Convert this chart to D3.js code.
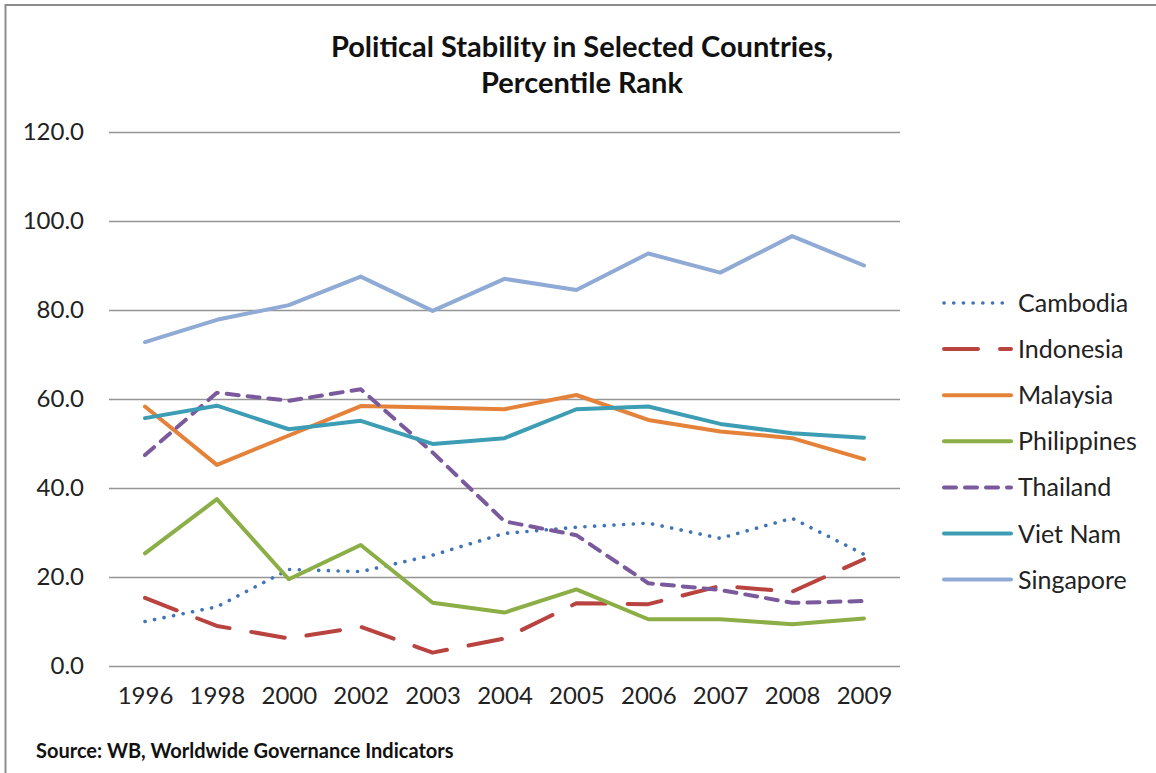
<!DOCTYPE html>
<html>
<head>
<meta charset="utf-8">
<script src="https://cdnjs.cloudflare.com/ajax/libs/d3/7.8.5/d3.min.js"></script>
<style>
  body { margin: 0; background: #fff; }
  svg { display: block; }
</style>
</head>
<body>
<div id="chart"></div>
<script>
const years = ['1996', '1998', '2000', '2002', '2003', '2004', '2005', '2006', '2007', '2008', '2009']
const countries = ['Cambodia', 'Indonesia', 'Malaysia', 'Philippines', 'Thailand', 'Viet Nam', 'Singapore']

const cambodia    = [10.0, 13.3, 21.7, 21.2, 24.9, 29.8, 31.2, 32.1, 28.7, 33.2, 25.1]
const indonesia   = [15.3, 9.0, 6.2, 8.8, 3.0, 6.2, 14.1, 13.9, 18.0, 16.7, 24.0]
const malaysia    = [58.3, 45.2, 51.8, 58.4, 58.1, 57.7, 60.9, 55.3, 52.7, 51.2, 46.5]
const philippines = [25.3, 37.5, 19.5, 27.2, 14.2, 12.0, 17.2, 10.5, 10.5, 9.4, 10.7]
const thailand    = [47.4, 61.4, 59.6, 62.2, 48.0, 32.5, 29.4, 18.6, 17.1, 14.2, 14.6]
const vietnam     = [55.7, 58.5, 53.2, 55.1, 49.9, 51.2, 57.7, 58.3, 54.4, 52.3, 51.3]
const singapore   = [72.8, 77.8, 81.1, 87.5, 79.8, 87.0, 84.5, 92.7, 88.4, 96.6, 90.0]

const yTicks = [0, 20, 40, 60, 80, 100, 120]

const STYLES = {
	'Cambodia':    { color: '#3f74b6', dash: '0.1 9.6', cap: 'round', width: 3.6 },
	'Indonesia':   { color: '#b8433f', dash: '34 22', cap: 'round', width: 4 },
	'Malaysia':    { color: '#e5823a', dash: null, cap: 'round', width: 4 },
	'Philippines': { color: '#8bae46', dash: null, cap: 'round', width: 4 },
	'Thailand':    { color: '#7a5a9c', dash: '12 9', cap: 'round', width: 4 },
	'Viet Nam':    { color: '#3c9db4', dash: null, cap: 'round', width: 4 },
	'Singapore':   { color: '#8faad5', dash: null, cap: 'round', width: 4 },
}

const seriesValues = [cambodia, indonesia, malaysia, philippines, thailand, vietnam, singapore]

const width = 1156
const height = 773
const FONT = 'Lato, "Open Sans", sans-serif'

let svg = d3.select('#chart').append('svg')
	.attr('width', width)
	.attr('height', height)

// frame (only top and left edges show in the picture)
svg.append('rect')
	.attr('x', 5.5)
	.attr('y', 5)
	.attr('width', width + 20)
	.attr('height', height + 20)
	.attr('fill', 'none')
	.attr('stroke', '#8c8c8c')
	.attr('stroke-width', 2)

// title
let title = svg.append('text')
	.attr('x', 582)
	.attr('text-anchor', 'middle')
	.style('font-family', FONT)
	.style('font-size', '29px')
	.style('font-weight', '700')
	.attr('fill', '#111')
title.append('tspan').attr('x', 582).attr('y', 57).text('Political Stability in Selected Countries,')
title.append('tspan').attr('x', 582).attr('y', 93).text('Percentile Rank')

let x = d3.scalePoint()
	.domain(years)
	.range([145, 864])

let y = d3.scaleLinear()
	.domain([0, 120])
	.range([666, 132])

// gridlines + y labels
let yAxis = svg.append('g')
	.attr('transform', 'translate(109,0)')
	.call(d3.axisLeft(y).tickValues(yTicks).tickSize(-791).tickPadding(25).tickFormat(d3.format('.1f')))
yAxis.select('.domain').remove()
yAxis.selectAll('line')
	.attr('stroke', '#959595')
	.attr('stroke-width', 1.3)
yAxis.selectAll('text')
	.style('font-family', FONT)
	.style('font-size', '24px')
	.attr('fill', '#222')

// x labels
let xAxis = svg.append('g')
	.attr('transform', 'translate(0,666)')
	.call(d3.axisBottom(x).tickSize(0).tickPadding(21))
xAxis.select('.domain').remove()
xAxis.selectAll('text')
	.style('font-family', FONT)
	.style('font-size', '24px')
	.attr('fill', '#222')

let line = d3.line()
	.x((d, i) => x(years[i]))
	.y(d => y(d))

countries.forEach((name, idx) => {
	let st = STYLES[name]
	svg.append('path')
		.datum(seriesValues[idx])
		.attr('d', line)
		.attr('fill', 'none')
		.attr('stroke', st.color)
		.attr('stroke-width', st.width)
		.attr('stroke-linecap', st.cap)
		.attr('stroke-linejoin', 'round')
		.attr('stroke-dasharray', st.dash)
})

// legend
let legend = svg.append('g')
	.selectAll('g')
	.data(countries)
	.enter()
		.append('g')
		.attr('transform', (d, i) => `translate(942,${303 + i * 46.1})`)

legend.append('line')
	.attr('x1', 2)
	.attr('x2', 69)
	.attr('stroke', d => STYLES[d].color)
	.attr('stroke-width', d => STYLES[d].width)
	.attr('stroke-linecap', d => STYLES[d].cap)
	.attr('stroke-dasharray', d => STYLES[d].dash)

legend.append('text')
	.attr('x', 76)
	.attr('dy', '0.36em')
	.text(d => d)
	.style('font-family', FONT)
	.style('font-size', '25px')
	.attr('fill', '#222')

// source note
svg.append('text')
	.attr('x', 36)
	.attr('y', 758)
	.text('Source: WB, Worldwide Governance Indicators')
	.style('font-family', FONT)
	.style('font-size', '20px')
	.style('font-weight', '700')
	.attr('fill', '#111')
</script>
</body>
</html>
